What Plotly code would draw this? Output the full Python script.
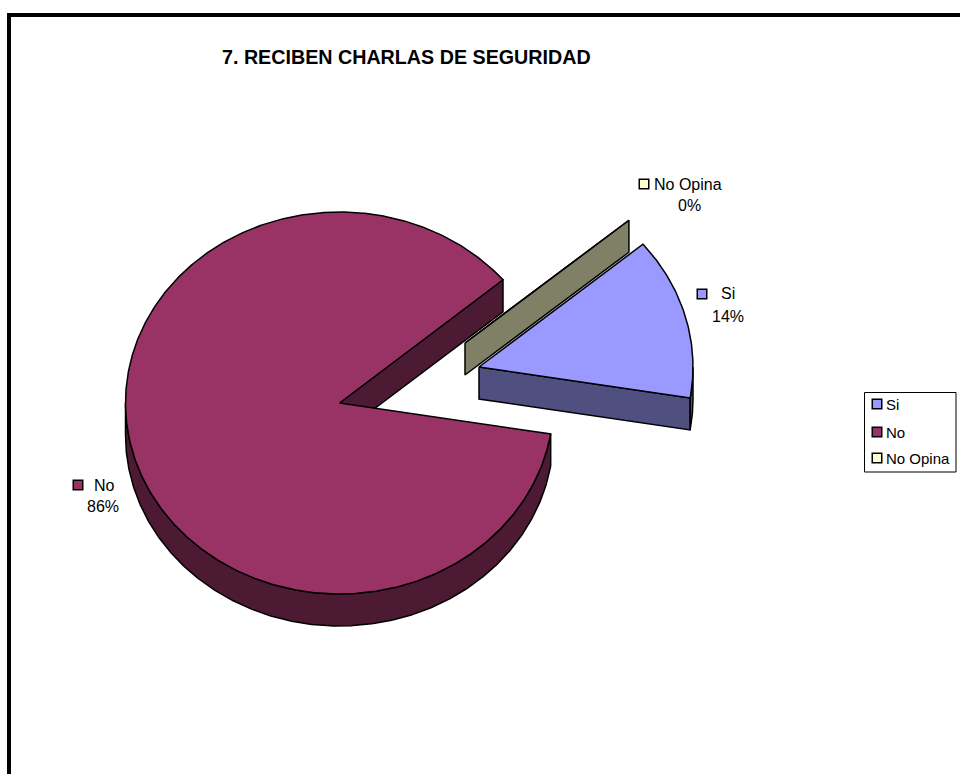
import math
import plotly.graph_objects as go

categories = ["Si", "No", "No Opina"]
values = [13.7, 86.25, 0.05]
title_text = "7. RECIBEN CHARLAS DE SEGURIDAD"

top_colors = ["#9999FF", "#993366", "#FFFFCC"]
wall_colors = ["#4F4F80", "#4D1A33", "#808066"]
centers = [(479, 367), (339.5, 403), (465, 343)]
marker_pos = [(702, 294), (78, 485), (644, 184)]
label_pos = [(728, 293), (104, 485), (688, 184)]
pct_pos = [(728, 316), (103, 506), (689, 205)]
legend_y = [404, 432, 458]

RX, RY, DEPTH = 214, 191, 32
START = 50.0
FONT = "Liberation Sans, Arial, sans-serif"
W, H = 960, 774


def pt(c, t, dy=0):
    r = math.radians(t)
    return c[0] + RX * math.sin(r), c[1] - RY * math.cos(r) + dy


def arc(c, a, b, dy=0):
    n = max(2, int(abs(b - a) * 2))
    return [pt(c, a + (b - a) * i / n, dy) for i in range(n + 1)]


def poly(points, fill):
    xs, ys = zip(*points)
    return go.Scatter(x=list(xs) + [xs[0]], y=list(ys) + [ys[0]], mode="lines", fill="toself",
                      fillcolor=fill, line=dict(color="black", width=1.5),
                      hoverinfo="skip", showlegend=False)


total = sum(values)
spans = {}
a = START
for i, v in enumerate(values):
    b = a + v / total * 360
    spans[i] = (a, b)
    a = b

fig = go.Figure()
for i in (1, 2, 0):
    c = centers[i]
    t0, t1 = spans[i]
    e = pt(c, t1)
    e2 = pt(c, t1, DEPTH)
    fig.add_trace(poly([c, e, e2, (c[0], c[1] + DEPTH)], wall_colors[i]))
    for k in (0, 360):
        lo, hi = max(t0, 90 + k), min(t1, 270 + k)
        if hi > lo:
            fig.add_trace(poly(arc(c, lo, hi) + arc(c, hi, lo, DEPTH), wall_colors[i]))
    fig.add_trace(poly([c] + arc(c, t0, t1), top_colors[i]))

annotations = [dict(x=406, y=57, text="<b>%s</b>" % title_text, showarrow=False,
                    font=dict(family=FONT, size=19.7, color="black"))]
for i, name in enumerate(categories):
    marker = dict(symbol="square", size=9.5, color=top_colors[i], line=dict(color="black", width=1.5))
    fig.add_trace(go.Scatter(x=[marker_pos[i][0]], y=[marker_pos[i][1]], mode="markers", name=name,
                             marker=marker, showlegend=False,
                             hovertemplate="%s: %.1f%%<extra></extra>" % (name, values[i])))
    fig.add_trace(go.Scatter(x=[877], y=[legend_y[i]], mode="markers", name=name,
                             marker=marker, showlegend=False, hoverinfo="skip"))
    pct = "%d%%" % round(values[i] / total * 100)
    annotations.append(dict(x=label_pos[i][0], y=label_pos[i][1], text=name, showarrow=False,
                            font=dict(family=FONT, size=16, color="black")))
    annotations.append(dict(x=pct_pos[i][0], y=pct_pos[i][1], text=pct, showarrow=False,
                            font=dict(family=FONT, size=16, color="black")))
    annotations.append(dict(x=886, y=legend_y[i], xanchor="left", text=name, showarrow=False, xshift=-2,
                            font=dict(family=FONT, size=15, color="black")))

fig.update_layout(
    width=W, height=H, margin=dict(l=0, r=0, t=0, b=0),
    paper_bgcolor="white", plot_bgcolor="white",
    xaxis=dict(range=[0, W], visible=False, fixedrange=True),
    yaxis=dict(range=[H, 0], visible=False, fixedrange=True),
    annotations=annotations,
    showlegend=False,
    shapes=[
        dict(type="rect", x0=9, y0=15, x1=W + 20, y1=H + 20, line=dict(color="black", width=4)),
        dict(type="rect", x0=864.5, y0=392.5, x1=956, y1=472, line=dict(color="black", width=1),
             fillcolor="white", layer="below"),
    ],
)
fig.write_html("out.html", config={"displayModeBar": False},
               post_script="document.body.style.margin='0';document.documentElement.style.overflow='hidden';")
